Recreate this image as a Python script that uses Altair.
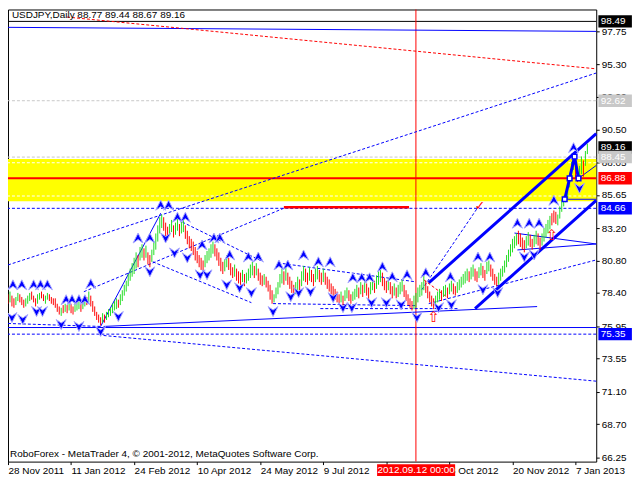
import altair as alt
import pandas as pd

FONT = "Liberation Sans"
FS = 10
BLUE = "#0000ff"
RED = "#ff0000"
GREEN = "#22dd22"

# ---------------- bars (daily high / low, direction) ----------------
highs = [
    78.3, 78.5, 78.2, 78.0, 78.1, 78.4, 78.3, 78.1, 77.9, 78.0,
    78.2, 78.4, 78.5, 78.2, 78.0, 78.3, 78.4, 78.5, 78.3, 78.2,
    78.4, 78.3, 78.1, 78.0, 78.0, 77.6, 77.4, 77.3, 77.5, 77.6,
    77.5, 77.7, 77.6, 77.4, 77.6, 77.7, 77.8, 77.6, 77.9, 78.2,
    78.1, 78.5, 78.2, 77.8, 77.4, 77.0, 76.8, 76.6, 76.9, 76.8,
    77.0, 77.2, 77.3, 77.6, 77.8, 78.0, 77.9, 78.3, 78.6, 79.0,
    79.3, 79.8, 80.2, 80.6, 81.0, 81.4, 81.2, 81.8, 82.0, 81.7,
    81.9, 81.4, 81.2, 81.6, 82.2, 82.8, 83.4, 84.0, 84.2, 84.0,
    83.6, 83.3, 83.5, 83.8, 83.4, 83.6, 83.9, 83.5, 83.7, 83.9,
    83.4, 83.0, 82.6, 82.4, 82.2, 81.8, 81.5, 81.2, 81.0, 80.8,
    81.2, 81.5, 81.7, 82.0, 82.2, 82.0, 81.7, 81.4, 81.0, 80.7,
    80.9, 81.2, 81.0, 80.6, 80.3, 80.5, 80.2, 80.0, 79.9, 80.1,
    79.8, 79.9, 80.2, 80.5, 80.7, 80.4, 80.6, 80.2, 79.9, 79.7,
    79.8, 79.6, 79.3, 79.0, 78.6, 78.3, 78.8, 79.2, 79.8, 80.2,
    80.0, 80.3, 79.9, 79.6, 79.3, 79.0, 79.2, 79.6, 79.4, 80.0,
    80.4, 80.2, 79.9, 80.3, 80.1, 79.8, 80.2, 80.4, 80.1, 79.9,
    80.2, 79.9, 79.6, 79.4, 79.1, 78.9, 78.7, 78.5, 78.3, 78.5,
    78.2, 78.6, 78.8, 78.6, 78.3, 78.5, 78.7, 79.0, 78.8, 79.2,
    79.0, 79.3, 79.1, 78.8, 79.2, 79.5, 79.3, 79.7, 80.0, 80.3,
    79.9, 79.5, 79.3, 79.5, 79.2, 78.9, 79.1, 78.8, 79.0, 79.2,
    79.4, 79.0, 78.6, 78.3, 78.0, 77.8, 78.2, 78.4, 78.8, 79.0,
    79.2, 79.7, 79.3, 78.9, 78.5, 78.2, 78.0, 78.2, 78.5, 78.7,
    78.6, 78.9, 79.0, 78.8, 79.1, 79.3, 79.1, 78.9, 79.2, 79.4,
    79.6, 79.8, 80.0, 80.2, 80.0, 80.3, 80.5, 80.2, 80.0, 80.3,
    80.6, 80.4, 80.1, 80.7, 80.8, 80.5, 80.2, 79.8, 79.6, 79.9,
    80.2, 80.4, 80.8, 81.2, 81.6, 82.0, 82.4, 82.6, 82.8, 83.0,
    82.8, 82.5, 82.3, 82.6, 82.9, 82.7, 82.4, 82.7, 83.0, 82.8,
    82.5, 82.8, 83.2, 83.5, 83.8, 84.1, 84.3, 84.5, 84.4, 84.2,
    84.8, 85.3, 85.6, 85.9, 86.4, 87.3, 88.1, 88.4, 87.9, 87.4,
    87.8, 88.5, 88.2, 88.9, 89.44,
]
lows = [
    77.6, 77.7, 77.4, 77.3, 77.5, 77.8, 77.7, 77.5, 77.3, 77.4,
    77.6, 77.8, 77.9, 77.7, 77.4, 77.6, 77.9, 78.0, 77.8, 77.6,
    77.9, 77.8, 77.6, 77.5, 77.3, 77.0, 76.8, 76.7, 76.9, 77.0,
    76.9, 77.1, 76.9, 76.8, 77.0, 77.1, 77.2, 77.0, 77.2, 77.4,
    77.5, 77.7, 77.4, 77.0, 76.7, 76.4, 76.2, 76.0, 76.2, 76.2,
    76.4, 76.6, 76.7, 76.9, 77.1, 77.2, 77.3, 77.5, 77.8, 78.2,
    78.5, 78.9, 79.3, 79.6, 79.8, 80.2, 80.3, 80.8, 81.0, 80.8,
    81.0, 80.5, 80.3, 80.7, 81.2, 81.6, 82.2, 82.8, 83.2, 83.0,
    82.6, 82.3, 82.6, 82.9, 82.5, 82.7, 83.0, 82.6, 82.8, 82.9,
    82.4, 82.0, 81.7, 81.5, 81.2, 80.8, 80.6, 80.3, 80.1, 80.0,
    80.3, 80.6, 80.8, 81.0, 81.3, 81.1, 80.8, 80.4, 80.0, 79.8,
    80.0, 80.3, 80.1, 79.7, 79.5, 79.6, 79.3, 79.1, 79.0, 79.2,
    78.9, 79.1, 79.3, 79.5, 79.7, 79.5, 79.7, 79.3, 79.0, 78.9,
    79.0, 78.8, 78.5, 77.9, 77.6, 77.7, 78.0, 78.3, 78.8, 79.1,
    79.0, 79.3, 79.0, 78.7, 78.4, 78.2, 78.3, 78.6, 78.5, 78.9,
    79.3, 79.2, 79.0, 79.3, 79.2, 78.9, 79.2, 79.4, 79.2, 79.0,
    79.2, 79.0, 78.7, 78.5, 78.3, 78.1, 77.9, 77.7, 77.6, 77.7,
    77.5, 77.8, 78.0, 77.8, 77.6, 77.8, 77.9, 78.1, 78.0, 78.3,
    78.1, 78.4, 78.2, 77.9, 78.3, 78.6, 78.4, 78.7, 79.0, 79.2,
    78.9, 78.6, 78.4, 78.6, 78.3, 78.0, 78.2, 78.0, 78.1, 78.3,
    78.5, 78.1, 77.8, 77.5, 77.3, 77.1, 77.2, 77.3, 77.7, 78.1,
    78.2, 78.6, 78.4, 78.0, 77.7, 77.4, 77.2, 77.4, 77.7, 77.9,
    77.8, 78.1, 78.2, 78.0, 78.3, 78.5, 78.3, 78.2, 78.4, 78.6,
    78.8, 79.0, 79.1, 79.3, 79.2, 79.4, 79.6, 79.3, 79.2, 79.5,
    79.7, 79.5, 79.3, 79.8, 80.0, 79.6, 79.3, 79.0, 78.9, 79.0,
    79.3, 79.6, 79.9, 80.3, 80.7, 81.1, 81.4, 81.7, 81.9, 82.0,
    81.8, 81.6, 81.4, 81.7, 81.9, 81.8, 81.6, 81.8, 82.0, 81.9,
    81.6, 81.9, 82.2, 82.5, 82.8, 83.1, 83.4, 83.6, 83.5, 83.4,
    83.9, 84.4, 84.8, 85.1, 85.3, 86.2, 87.0, 87.5, 86.9, 86.6,
    86.8, 87.2, 87.0, 87.8, 88.67,
]
dirs = (
    "dudduudddu" "uuddduuddu" "uddddddudu" "dudduuuduu" "duddddddud"
    "uuuuuuduuu" "uuuuuuduud" "udduuuuuud" "dduuduuduu" "dddddddddd"
    "uuuuuddddd" "uudddudddu" "duuuududdd" "udddduuuuu" "dudddduudu"
    "uddudduudd" "uddddddddu" "duudduuudu" "dudduuduuu" "dddudduduu"
    "uddddduuuu" "uuddddduuu" "duuduudduu" "uuuuduuddu" "udduuddddu"
    "uuuuuuuuud" "ddduudduud" "duuuuudddu" "uuuuuuuudd" "uuduu"
)

# ---------------- fractals (bar index, price) ----------------
fu_x = [2.5, 7, 13, 16.5, 20, 29.5, 32.5, 36, 39, 42, 66, 72, 77.5, 81.5, 86, 90,
        98.5, 104.5, 107.5, 112.5, 122, 127, 137.5, 142, 150, 157.5, 163.5, 175,
        179.5, 183.5, 190, 195, 202.5, 212, 224.5, 238.5, 244.5, 258.5, 264.5,
        269.5, 277, 287]
fu_p = [79.0, 79.0, 79.0, 79.0, 79.0, 77.9, 77.9, 77.9, 77.9, 79.08, 82.46, 82.46,
        84.89, 84.89, 84.0, 84.0, 81.95, 82.46, 82.46, 81.21, 81.06, 81.06, 80.47,
        80.47, 81.21, 80.70, 80.70, 79.52, 79.52, 79.52, 80.33, 79.59, 79.74, 79.89,
        79.59, 81.06, 81.06, 83.56, 83.56, 83.56, 85.25, 89.15]
fd_x = [2, 7.5, 14.5, 17.5, 27, 36, 47, 56, 72, 80, 84.5, 91, 97.5, 101, 111, 117.5,
        123.5, 134.5, 143.5, 147.5, 153.5, 165, 170, 174.5, 184.5, 192, 199.5, 207.5,
        218.5, 225, 241, 248.5, 262, 267, 290]
fd_p = [76.58, 76.43, 77.02, 77.02, 76.06, 75.92, 75.55, 76.65, 79.96, 82.46, 81.36,
        80.99, 79.74, 79.74, 79.0, 78.78, 78.42, 77.02, 78.12, 78.42, 78.49, 78.05,
        77.31, 77.31, 77.68, 77.68, 77.53, 76.58, 77.31, 77.53, 78.64, 78.42, 81.06,
        81.21, 86.14]

# ---------------- trend lines: (x1, p1, x2, p2, kind) ----------------
seg_x1 = [0, 30, 0, 38.5, 47, 88.5, 73.5, 137, 134.5, 158.5, 48.5, 48.5, 0, 213.5,
          237, 210, 211, 213.5, 257, 258.5, 282.5, 289.5, 140]
seg_p1 = [98.05, 98.81, 80.47, 78.49, 75.92, 83.64, 80.70, 80.62, 77.61, 77.24, 75.92,
          75.25, 76.14, 79.15, 77.24, 78.64, 79.37, 77.61, 82.83, 81.58, 85.33, 86.87,
          84.74]
seg_x2 = [298.5, 298.5, 298.5, 140, 77.5, 129.5, 123.5, 207, 207, 228.5, 268.5, 298.5,
          47, 298.5, 298.5, 238.5, 222.5, 298.5, 298.5, 298.5, 298.5, 298.5, 203.5]
seg_p2 = [97.75, 94.98, 94.67, 84.67, 84.30, 80.70, 77.68, 79.22, 77.46, 77.24, 77.39,
          71.87, 75.92, 90.18, 85.25, 84.74, 78.12, 80.84, 82.02, 82.02, 85.33, 87.83,
          84.74]
seg_kind = ["bs", "rd", "bd", "bd", "bs", "bd", "bd", "bd", "bd", "bd", "bs", "bd",
            "bd", "bt", "bt", "bd", "rd", "bd", "bs", "bs", "bs", "bs", "rs"]

# horizontal levels
h_price = [98.49, 92.62, 88.45, 88.03, 85.57, 86.88, 84.66, 75.84, 75.35]
h_kind = ["black", "gray", "gray", "white", "white", "red", "bluedash", "blue", "bluedash"]

band_top, band_bottom = 88.31, 85.18
vline_bar = 207

# zigzag
zz_x = [282.5, 285, 287.5, 289.5]
zz_p = [85.33, 86.87, 88.49, 86.87]

# right price labels
lab_price = [98.49, 92.62, 89.16, 88.45, 86.88, 84.66, 75.35]
lab_text = ["98.49", "92.62", "89.16", "88.45", "86.88", "84.66", "75.35"]
lab_bg = ["#000000", "#c8c8c8", "#000000", "#c8c8c8", RED, BLUE, BLUE]

y_ticks = [97.75, 95.30, 92.90, 90.50, 88.05, 85.65, 83.20, 80.80, 78.40, 75.95,
           73.55, 71.10, 68.70, 66.25]
tick_bars = [0, 32, 64, 96, 128, 160, 192, 224, 256, 288]
# the 22 Aug 2012 label is fully covered by the cursor date box in the reference
tick_labels = ["28 Nov 2011", "11 Jan 2012", "24 Feb 2012", "10 Apr 2012", "24 May 2012",
               "9 Jul 2012", "", "5 Oct 2012", "20 Nov 2012", "7 Jan 2013"]

title_text = "USDJPY,Daily  88.77 89.44 88.67 89.16"
footer_text = "RoboForex - MetaTrader 4, \u00a9 2001-2012, MetaQuotes Software Corp."
cursor_text = "2012.09.12 00:00"

# ---------------- build ----------------
X = alt.Scale(domain=[0, 298.5], nice=False, zero=False)
Y = alt.Scale(domain=[65.92, 99.37], nice=False, zero=False)

n = min(len(highs), len(lows), len(dirs))
bar_df = pd.DataFrame({"i": list(range(n)), "high": highs[:n], "low": lows[:n],
                       "dir": list(dirs[:n])})

expr = "''"
for b, l in zip(reversed(tick_bars), reversed(tick_labels)):
    expr = f"datum.value == {b} ? '{l}' : ({expr})"

XAXIS = alt.Axis(values=tick_bars, labelExpr=expr, title=None, grid=False, domain=False,
                 ticks=True, tickSize=3, tickColor="black", labelAlign="left",
                 labelBaseline="top", labelPadding=1, labelFont=FONT, labelFontSize=FS,
                 labelColor="black", labelOverlap=False, labelFlush=False, orient="bottom")
YAXIS = alt.Axis(orient="right", values=y_ticks, format=".2f", title=None, grid=False,
                 domain=False, tickSize=3, tickColor="black", labelPadding=2,
                 labelFont=FONT, labelFontSize=FS, labelColor="black",
                 labelOverlap=False, labelFlush=False, labelBaseline="middle")


def ax(f):
    return alt.X(f, type="quantitative", scale=X, axis=XAXIS)


def ay(f):
    return alt.Y(f, type="quantitative", scale=Y, axis=YAXIS)


band_df = pd.DataFrame({"x1": [0], "x2": [298.5], "p1": [band_top], "p2": [band_bottom]})
band = alt.Chart(band_df).mark_rect(color="#ffff00").encode(
    x=ax("x1"), x2="x2", y=ay("p1"), y2="p2")

h_df = pd.DataFrame({"p": h_price, "k": h_kind})
hstyles = {
    "black": dict(color="#000000", strokeWidth=1),
    "gray": dict(color="#c8c8c8", strokeWidth=1, strokeDash=[3, 2]),
    "white": dict(color="#ffffff", strokeWidth=1, strokeDash=[3, 2]),
    "red": dict(color=RED, strokeWidth=2),
    "bluedash": dict(color=BLUE, strokeWidth=1, strokeDash=[3, 2]),
    "blue": dict(color=BLUE, strokeWidth=1),
}
hlayers = []
for k, st in hstyles.items():
    hlayers.append(alt.Chart(h_df[h_df.k == k]).mark_rule(**st).encode(y=ay("p")))

vline = alt.Chart(pd.DataFrame({"x": [vline_bar]})).mark_rule(
    color=RED, strokeWidth=1).encode(x=ax("x"))

seg_df = pd.DataFrame({"x1": seg_x1, "p1": seg_p1, "x2": seg_x2, "p2": seg_p2, "k": seg_kind})
sstyles = {
    "bs": dict(color=BLUE, strokeWidth=1),
    "bd": dict(color=BLUE, strokeWidth=1, strokeDash=[3, 2]),
    "bt": dict(color=BLUE, strokeWidth=3),
    "rd": dict(color=RED, strokeWidth=1, strokeDash=[3, 2]),
    "rs": dict(color=RED, strokeWidth=2.5),
}
slayers = []
for k, st in sstyles.items():
    slayers.append(alt.Chart(seg_df[seg_df.k == k]).mark_rule(**st).encode(
        x=ax("x1"), x2="x2", y=ay("p1"), y2="p2"))

bars = alt.Chart(bar_df).mark_rule(strokeWidth=1).encode(
    x=ax("i"), y=ay("low"), y2="high",
    color=alt.Color("dir:N", scale=alt.Scale(domain=["u", "d"], range=[GREEN, RED]),
                    legend=None),
)

UP = "M0,-1L1,1L0,0.3L-1,1Z"
DN = "M0,1L1,-1L0,-0.3L-1,-1Z"
fu = alt.Chart(pd.DataFrame({"x": fu_x, "p": fu_p})).mark_point(
    shape=UP, filled=True, color=BLUE, stroke="#a8a8ff", strokeWidth=1, size=100,
    opacity=1).encode(x=ax("x"), y=ay("p"))
fd = alt.Chart(pd.DataFrame({"x": fd_x, "p": fd_p})).mark_point(
    shape=DN, filled=True, color=BLUE, stroke="#a8a8ff", strokeWidth=1, size=100,
    opacity=1).encode(x=ax("x"), y=ay("p"))

zz_df = pd.DataFrame({"x": zz_x, "p": zz_p, "o": list(range(len(zz_x)))})
zz = alt.Chart(zz_df).mark_line(color=BLUE, strokeWidth=3).encode(
    x=ax("x"), y=ay("p"), order="o:Q")
zsq = alt.Chart(zz_df).mark_square(filled=True, color="white", stroke=BLUE,
                                   strokeWidth=1.5, size=22, opacity=1).encode(
    x=ax("x"), y=ay("p"))

txt_df = pd.DataFrame({"x": [2, 1], "p": [99.37, 66.5], "t": [title_text, footer_text]})
title_mark = alt.Chart(txt_df.iloc[[0]]).mark_text(
    align="left", baseline="top", dy=1, font=FONT, fontSize=FS, color="black").encode(
    x=ax("x"), y=ay("p"), text="t:N")
footer_mark = alt.Chart(txt_df.iloc[[1]]).mark_text(
    align="left", baseline="middle", font=FONT, fontSize=FS, color="black").encode(
    x=ax("x"), y=ay("p"), text="t:N")

sym_df = pd.DataFrame({"x": [239.5, 216, 276], "p": [84.81, 76.58, 82.68],
                       "t": ["\u2713", "\u21e7", "\u21e7"], "s": [13, 15, 15]})
syms = alt.Chart(sym_df).mark_text(align="center", baseline="middle",
                                   font="DejaVu Sans", color=RED).encode(
    x=ax("x"), y=ay("p"), text="t:N", size=alt.Size("s:Q", scale=None, legend=None))

lab_df = pd.DataFrame({"p": lab_price, "t": lab_text, "bg": lab_bg})
lab_df["x1"] = 299.6
lab_df["x2"] = 316.6
lab_df["xt"] = 300.8
lab_df["p1"] = lab_df["p"] + 0.46
lab_df["p2"] = lab_df["p"] - 0.46
lab_box = alt.Chart(lab_df).mark_rect().encode(
    x=ax("x1"), x2="x2", y=ay("p1"), y2="p2",
    color=alt.Color("bg:N", scale=None))
lab_txt = alt.Chart(lab_df).mark_text(align="left", baseline="middle", font=FONT,
                                      fontSize=FS, color="white").encode(
    x=ax("xt"), y=ay("p"), text="t:N")

cur_df = pd.DataFrame({"x1": [187.3], "x2": [226.9], "xc": [207.1],
                       "p1": [65.73], "p2": [64.86], "pc": [65.29], "t": [cursor_text]})
cur_box = alt.Chart(cur_df).mark_rect(color=RED).encode(
    x=ax("x1"), x2="x2", y=ay("p1"), y2="p2")
cur_txt = alt.Chart(cur_df).mark_text(align="center", baseline="middle", font=FONT,
                                      fontSize=FS, color="white").encode(
    x=ax("xc"), y=ay("pc"), text="t:N")

chart = alt.layer(
    band, *hlayers, vline, *slayers, bars, fu, fd, zz, zsq, title_mark, footer_mark,
    syms, lab_box, lab_txt, cur_box, cur_txt,
).properties(
    width=592, height=455,
    autosize=alt.AutoSizeParams(type="none"),
    padding={"left": 0, "top": 0, "right": 36, "bottom": 15},
    background="white",
).configure_view(stroke="black", strokeWidth=1)

chart.save("out.html", embed_options={"renderer": "svg", "actions": False})
